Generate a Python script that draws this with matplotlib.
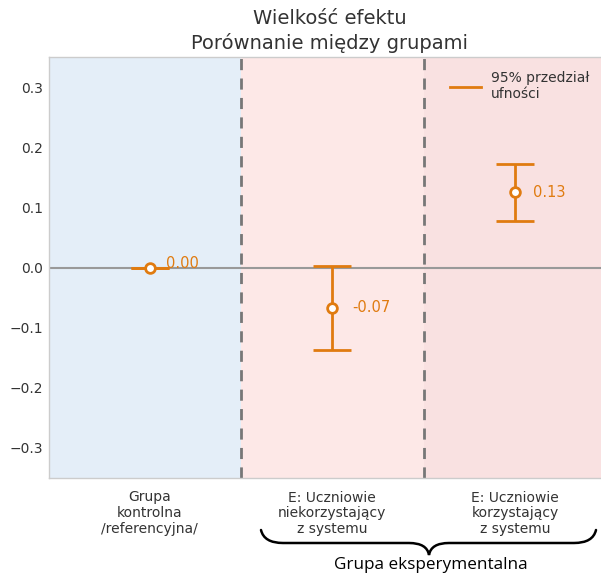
import matplotlib
matplotlib.use("Agg")
import matplotlib.pyplot as plt
from matplotlib.path import Path
from matplotlib.patches import PathPatch
from matplotlib.lines import Line2D

categories = ["Grupa\nkontrolna\n/referencyjna/",
              "E: Uczniowie\nniekorzystający\nz systemu",
              "E: Uczniowie\nkorzystający\nz systemu"]
effects = [0.00, -0.067, 0.125]
ci_low = [0.00, -0.137, 0.078]
ci_high = [0.00, 0.002, 0.172]
value_labels = ["0.00", "-0.07", "0.13"]
yticks = [-0.3, -0.2, -0.1, 0.0, 0.1, 0.2, 0.3]

orange = "#e07b10"
bg_colors = ["#e4eef8", "#fde8e7", "#f9e1e1"]

W, H = 601, 575
fig = plt.figure(figsize=(W / 100, H / 100), dpi=100)
ax = fig.add_axes([49 / W, 1 - 478 / H, (610 - 49) / W, (478 - 57) / H])

xmin, xmax = -0.55, 2.52
ax.set_xlim(xmin, xmax)
ax.set_ylim(-0.35, 0.35)

bounds = [xmin, 0.5, 1.5, xmax]
for i in range(3):
    ax.axvspan(bounds[i], bounds[i + 1], color=bg_colors[i], zorder=0, lw=0)
for b in [0.5, 1.5]:
    ax.axvline(b, color="#777777", lw=2, ls=(0, (4, 3)), zorder=1)
ax.axhline(0, color="#999999", lw=1.5, zorder=1)

x = list(range(len(categories)))
yerr = [[e - l for e, l in zip(effects, ci_low)], [h - e for e, h in zip(effects, ci_high)]]
ax.errorbar(x, effects, yerr=yerr, fmt="o", color=orange, ecolor=orange,
            elinewidth=2, capsize=13.5, capthick=2, markersize=7,
            markerfacecolor="white", markeredgecolor=orange, markeredgewidth=2,
            zorder=3)

offsets = [(0.09, 0.006), (0.11, 0.0), (0.10, 0.0)]
for xi, yi, lab, (dx, dy) in zip(x, effects, value_labels, offsets):
    ax.text(xi + dx, yi + dy, lab, color=orange, fontsize=10.5, va="center", ha="left", zorder=4)

ax.set_xticks(x)
ax.set_xticklabels(categories, fontsize=10, color="#333333", linespacing=1.15)
ax.set_yticks(yticks)
ax.set_yticklabels([f"{v:.1f}".replace("-", "\u2212") for v in yticks], fontsize=10, color="#333333")
ax.tick_params(axis="y", length=0, pad=4)
ax.tick_params(axis="x", length=0, pad=9)
for s in ax.spines.values():
    s.set_color("#cccccc")
    s.set_linewidth(1)

h = [Line2D([0], [0], color=orange, lw=2)]
ax.legend(h, ["95% przedział\nufności"], loc="upper right", frameon=False,
          fontsize=10, labelcolor="#333333", handlelength=2.2, handletextpad=0.7,
          bbox_to_anchor=(0.985, 0.997))

fig.text(0.5 * (49 + 610) / W, 1 - 31 / H, "Wielkość efektu\nPorównanie między grupami",
         ha="center", va="center", fontsize=14, color="#333333", linespacing=1.3)

# brace
def px(xp, yp):
    return (xp / W, 1 - yp / H)

xl, xr, xc = 261, 596, 429
ytop, ymid, ytip = 530, 543, 555
verts = [px(xl, ytop), px(xl + 3, ymid), px(xl + 22, ymid),
         px(xc - 20, ymid), px(xc - 2, ymid), px(xc, ytip),
         px(xc + 2, ymid), px(xc + 20, ymid),
         px(xr - 22, ymid), px(xr - 3, ymid), px(xr, ytop)]
codes = [Path.MOVETO, Path.CURVE3, Path.CURVE3, Path.LINETO,
         Path.CURVE3, Path.CURVE3, Path.CURVE3, Path.CURVE3,
         Path.LINETO, Path.CURVE3, Path.CURVE3]
brace = PathPatch(Path(verts, codes), transform=fig.transFigure, fill=False,
                  lw=1.8, edgecolor="black", capstyle="round")
fig.add_artist(brace)
fig.text(431 / W, 1 - 565 / H, "Grupa eksperymentalna", ha="center", va="center",
         fontsize=12.3, color="black", family="Open Sans")

fig.savefig("out.png", dpi=100)
